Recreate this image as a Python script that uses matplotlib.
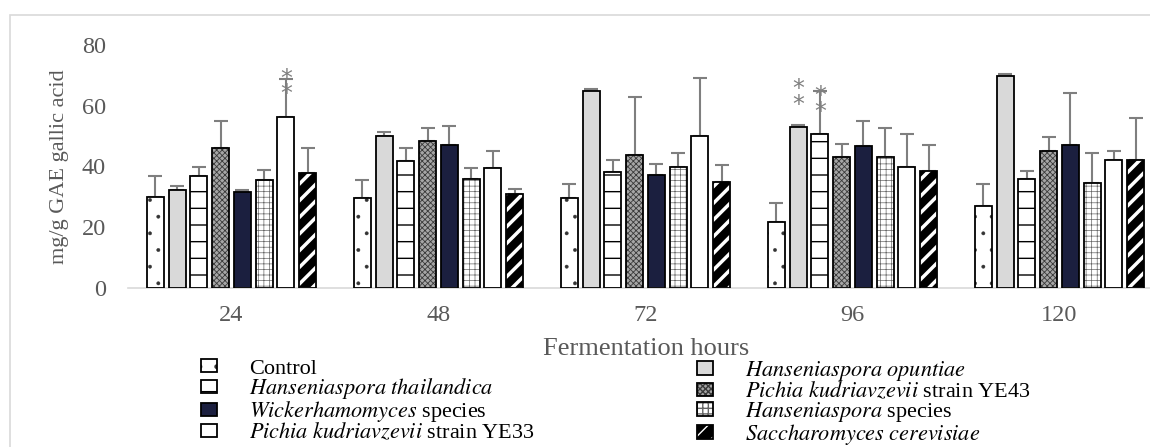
import numpy as np
import matplotlib.pyplot as plt
from matplotlib.patches import Rectangle

plt.rcParams["font.family"] = ["Liberation Serif", "DejaVu Serif"]
plt.rcParams["mathtext.fontset"] = "stix"

hours = ["24", "48", "72", "96", "120"]

# total phenolic content (mg/g GAE) and upper error per strain
control = [30.1, 29.7, 29.7, 21.8, 27.1]
control_sd = [6.8, 5.7, 4.4, 6.2, 7.0]
h_opuntiae = [32.4, 50.1, 65.0, 52.9, 69.7]
h_opuntiae_sd = [1.3, 1.3, 0.6, 0.8, 0.9]
h_thailandica = [36.9, 41.7, 38.2, 50.6, 35.9]
h_thailandica_sd = [3.0, 4.5, 3.9, 14.3, 2.7]
p_kud_ye43 = [46.2, 48.4, 43.9, 43.0, 45.2]
p_kud_ye43_sd = [8.8, 4.4, 19.1, 4.4, 4.5]
wickerhamomyces = [31.5, 47.1, 37.3, 46.6, 47.1]
wickerhamomyces_sd = [0.8, 6.1, 3.5, 8.4, 17.2]
hanseniaspora_sp = [35.6, 35.9, 39.9, 43.0, 34.6]
hanseniaspora_sp_sd = [3.2, 3.6, 4.4, 9.8, 9.7]
p_kud_ye33 = [56.4, 39.4, 50.1, 39.9, 42.1]
p_kud_ye33_sd = [12.3, 5.8, 19.1, 10.7, 3.1]
s_cerevisiae = [37.8, 31.0, 35.0, 38.6, 42.1]
s_cerevisiae_sd = [8.4, 1.7, 5.4, 8.4, 13.8]

labels = [
    "Control",
    r"$\mathit{Hanseniaspora\ opuntiae}$",
    r"$\mathit{Hanseniaspora\ thailandica}$",
    r"$\mathit{Pichia\ kudriavzevii}$ strain YE43",
    r"$\mathit{Wickerhamomyces}$ species",
    r"$\mathit{Hanseniaspora}$ species",
    r"$\mathit{Pichia\ kudriavzevii}$ strain YE33",
    r"$\mathit{Saccharomyces\ cerevisiae}$",
]
means = [control, h_opuntiae, h_thailandica, p_kud_ye43,
         wickerhamomyces, hanseniaspora_sp, p_kud_ye33, s_cerevisiae]
errors = [control_sd, h_opuntiae_sd, h_thailandica_sd, p_kud_ye43_sd,
          wickerhamomyces_sd, hanseniaspora_sp_sd, p_kud_ye33_sd, s_cerevisiae_sd]

# (series, hour) pairs flagged as significant
significant = [(6, 0), (1, 3), (2, 3)]

# fill, hatch, hatch colour, hatch width
styles = [
    ("white", ".", "#333333", 0.3),
    ("#d9d9d9", None, "black", 1.0),
    ("white", "-", "black", 1.0),
    ("#a6a6a6", "xxxxxx", "#3a3a3a", 0.6),
    ("#1b1f3f", None, "black", 1.0),
    ("white", "+++", "#666666", 0.5),
    ("white", None, "black", 1.0),
    ("black", "//", "white", 2.5),
]

grey = "#595959"
fig = plt.figure(figsize=(11.5, 4.47), dpi=100)
ax = fig.add_axes([128 / 1150, 1 - 288 / 447, 1035 / 1150, 243 / 447])

x = np.arange(len(hours))
step, width = 0.105, 0.082
handles = []
for i, (vals, err) in enumerate(zip(means, errors)):
    face, hatch, hcol, hlw = styles[i]
    pos = x + (i - 3.5) * step
    fill = ax.bar(pos, vals, width, color=face, edgecolor=hcol, hatch=hatch,
                  linewidth=0, zorder=2)
    for p in fill:
        if hasattr(p, "set_hatch_linewidth"):
            p.set_hatch_linewidth(hlw)
    outline = ax.bar(pos, vals, width, facecolor="none", edgecolor="black",
                     linewidth=1.3, zorder=3)
    ax.errorbar(pos, vals, yerr=[np.zeros(len(err)), err], fmt="none",
                ecolor="#7f7f7f", elinewidth=1.5, capsize=5, capthick=1.5,
                zorder=1)
    handles.append((fill, outline))

for s, h in significant:
    xs = x[h] + (s - 3.5) * step
    ax.text(xs, means[s][h] + 3.5, "*\n*", ha="center", va="bottom",
            fontsize=17, color="#7f7f7f", linespacing=0.55,
            family="DejaVu Sans", zorder=4)

ax.set_xlim(-0.5, len(hours) - 0.5)
ax.set_ylim(0, 80)
ax.set_yticks([0, 20, 40, 60, 80])
ax.set_xticks(x)
ax.set_xticklabels(hours)
ax.tick_params(length=0, labelsize=17.5, labelcolor=grey)
ax.tick_params(axis="x", pad=12)
ax.tick_params(axis="y", pad=16)
for side in ["top", "right", "left"]:
    ax.spines[side].set_visible(False)
ax.spines["bottom"].set_color("#d9d9d9")
ax.spines["bottom"].set_linewidth(1.2)
ax.set_ylabel("mg/g GAE gallic acid", fontsize=16, color=grey)
ax.yaxis.set_label_coords(-0.057, 0.5)

fig.text(646 / 1150, 1 - 349 / 447, "Fermentation hours", ha="center",
         va="center", fontsize=19, color=grey)

# chart area frame
fig.patches.append(Rectangle((10 / 1150, -0.1), 1.2, 1.1 - 15 / 447,
                             transform=fig.transFigure, fill=False,
                             edgecolor="#d9d9d9", linewidth=1.2))

order_left = [0, 2, 4, 6]
order_right = [1, 3, 5, 7]
leg_kw = dict(frameon=False, fontsize=16, handlelength=0.7, handleheight=0.55,
              handletextpad=1.45, labelspacing=-0.1, borderpad=0,
              borderaxespad=0, loc="upper left")
leg1 = fig.legend([handles[i] for i in order_left],
                  [labels[i] for i in order_left],
                  bbox_to_anchor=(201 / 1150, 1 - 359 / 447), **leg_kw)
leg2 = fig.legend([handles[i] for i in order_right],
                  [labels[i] for i in order_right],
                  bbox_to_anchor=(697 / 1150, 1 - 359 / 447), **leg_kw)

fig.savefig("out.png", dpi=100)
